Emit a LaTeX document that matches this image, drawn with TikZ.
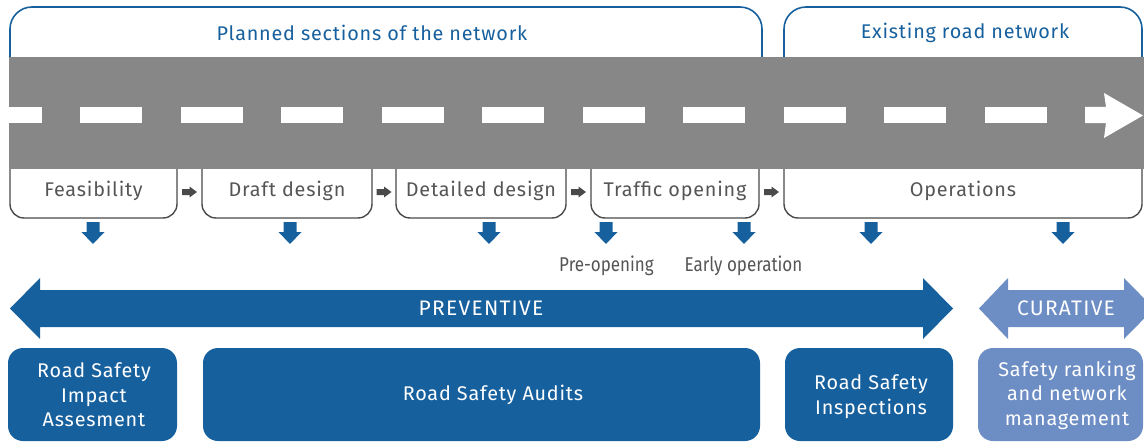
\documentclass[tikz,border=0pt]{standalone}
\usepackage{fontspec}
\setmainfont{Fira Sans}[LetterSpace=4]
\newfontfamily\widefont{Fira Sans}[LetterSpace=6]
\newfontfamily\condfont{Fira Sans}[FakeStretch=0.85]
\definecolor{rblue}{HTML}{17609E}
\definecolor{lblue}{HTML}{6D8DC5}
\definecolor{roadgray}{HTML}{878787}
\definecolor{tgray}{HTML}{555555}
\definecolor{agray}{HTML}{4A4A4A}
\tikzset{
  frameline/.style={draw=rblue, line width=1.6pt, rounded corners=22pt},
  stageline/.style={draw=agray, line width=1.4pt, rounded corners=14pt},
  titletext/.style={text=rblue, font=\fontsize{19.8}{22}\selectfont, inner sep=0pt},
  stagetext/.style={text=tgray, font=\fontsize{19.8}{22}\selectfont, inner sep=0pt},
  phasetext/.style={text=tgray, font=\condfont\fontsize{20}{22}\selectfont, inner sep=0pt},
  bartext/.style={text=white, font=\widefont\fontsize{21}{22}\selectfont, inner sep=0pt},
  boxtext/.style={text=white, font=\fontsize{19.8}{24.5}\selectfont, inner sep=0pt, align=center},
  darkbox/.style={fill=rblue, rounded corners=15pt},
  lightbox/.style={fill=lblue, rounded corners=15pt},
  grayarr/.pic={\fill[agray] (-7.5,-3) -- (0,-3) -- (0,-5.5) -- (7.5,0) -- (0,5.5) -- (0,3) -- (-7.5,3) -- cycle;},
  bluedown/.pic={\fill[rblue] (-6.5,0) -- (6.5,0) -- (6.5,10) -- (11.5,10) -- (0,22) -- (-11.5,10) -- (-6.5,10) -- cycle;}
}
\begin{document}
\begin{tikzpicture}[x=1pt,y=-1pt]
\useasboundingbox (0,0) rectangle (1144,444);
\clip (0,0) rectangle (1144,444);

% top frames
\draw[frameline] (10,60) -- (10,7) -- (762,7) -- (762,60);
\draw[frameline] (784,60) -- (784,7) -- (1142,7) -- (1142,60);
\node[titletext] (planned) at (372,33) {Planned sections of the network};
\node[titletext] (existing) at (965,33) {Existing road network};

% road
\fill[roadgray] (9,57) rectangle (1150,169);
\fill[white] (9,107) rectangle (41.5,123);
\foreach \i in {0,...,9} { \fill[white] ({80+100.5*\i},107) rectangle ++(62,16); }
\fill[white] (1085,107) -- (1106,107) -- (1104,93) -- (1143,115.5) -- (1104,138) -- (1106,123) -- (1085,123) -- cycle;

% stage boxes
\draw[stageline] (10,169) -- (10,218) -- (177,218) -- (177,169);
\draw[stageline] (202,169) -- (202,218) -- (372,218) -- (372,169);
\draw[stageline] (396,169) -- (396,218) -- (566,218) -- (566,169);
\draw[stageline] (591,169) -- (591,218) -- (759,218) -- (759,169);
\draw[stageline] (784,169) -- (784,218) -- (1142,218) -- (1142,169);
\node[stagetext] (feas) at (93.5,191) {Feasibility};
\node[stagetext] (draft) at (287,191) {Draft design};
\node[stagetext] (detail) at (481,191) {Detailed design};
\node[stagetext] (traffic) at (675,191) {Traffic opening};
\node[stagetext] (ops) at (963,191) {Operations};

% gray arrows between stages
\pic at (189.5,192) {grayarr};
\pic at (384,192) {grayarr};
\pic at (578.5,192) {grayarr};
\pic at (771.5,192) {grayarr};

% blue down arrows
\foreach \x in {93,290,489,606,744,871,1063} { \pic at (\x,222) {bluedown}; }
\node[phasetext] (preop) at (606.5,266) {Pre-opening};
\node[phasetext] (early) at (743.5,266) {Early operation};

% preventive double arrow
\fill[rblue] (10,308.5) -- (40,278) -- (40,290) -- (923,290) -- (923,278) -- (953,308.5) -- (923,339) -- (923,327) -- (40,327) -- (40,339) -- cycle;
\node[bartext] (prev) at (481,308.5) {PREVENTIVE};
% curative double arrow
\fill[lblue] (979,308.5) -- (1008,278) -- (1008,290) -- (1124,290) -- (1124,278) -- (1154,308.5) -- (1124,339) -- (1124,327) -- (1008,327) -- (1008,339) -- cycle;
\node[bartext] (cur) at (1066,308.5) {CURATIVE};

% bottom boxes
\fill[darkbox] (8,348) rectangle (177,441);
\fill[darkbox] (203,348) rectangle (760,441);
\fill[darkbox] (785,348) rectangle (953,441);
\fill[lightbox] (978,348) rectangle (1143,441);
\node[boxtext] (rsia) at (94,395) {Road Safety\\Impact\\Assesment};
\node[boxtext] (rsa) at (493,395) {Road Safety Audits};
\node[boxtext] (rsi) at (871,396.5) {Road Safety\\Inspections};
\node[boxtext] (rank) at (1067,395) {Safety ranking\\and network\\management};
\end{tikzpicture}
\end{document}
